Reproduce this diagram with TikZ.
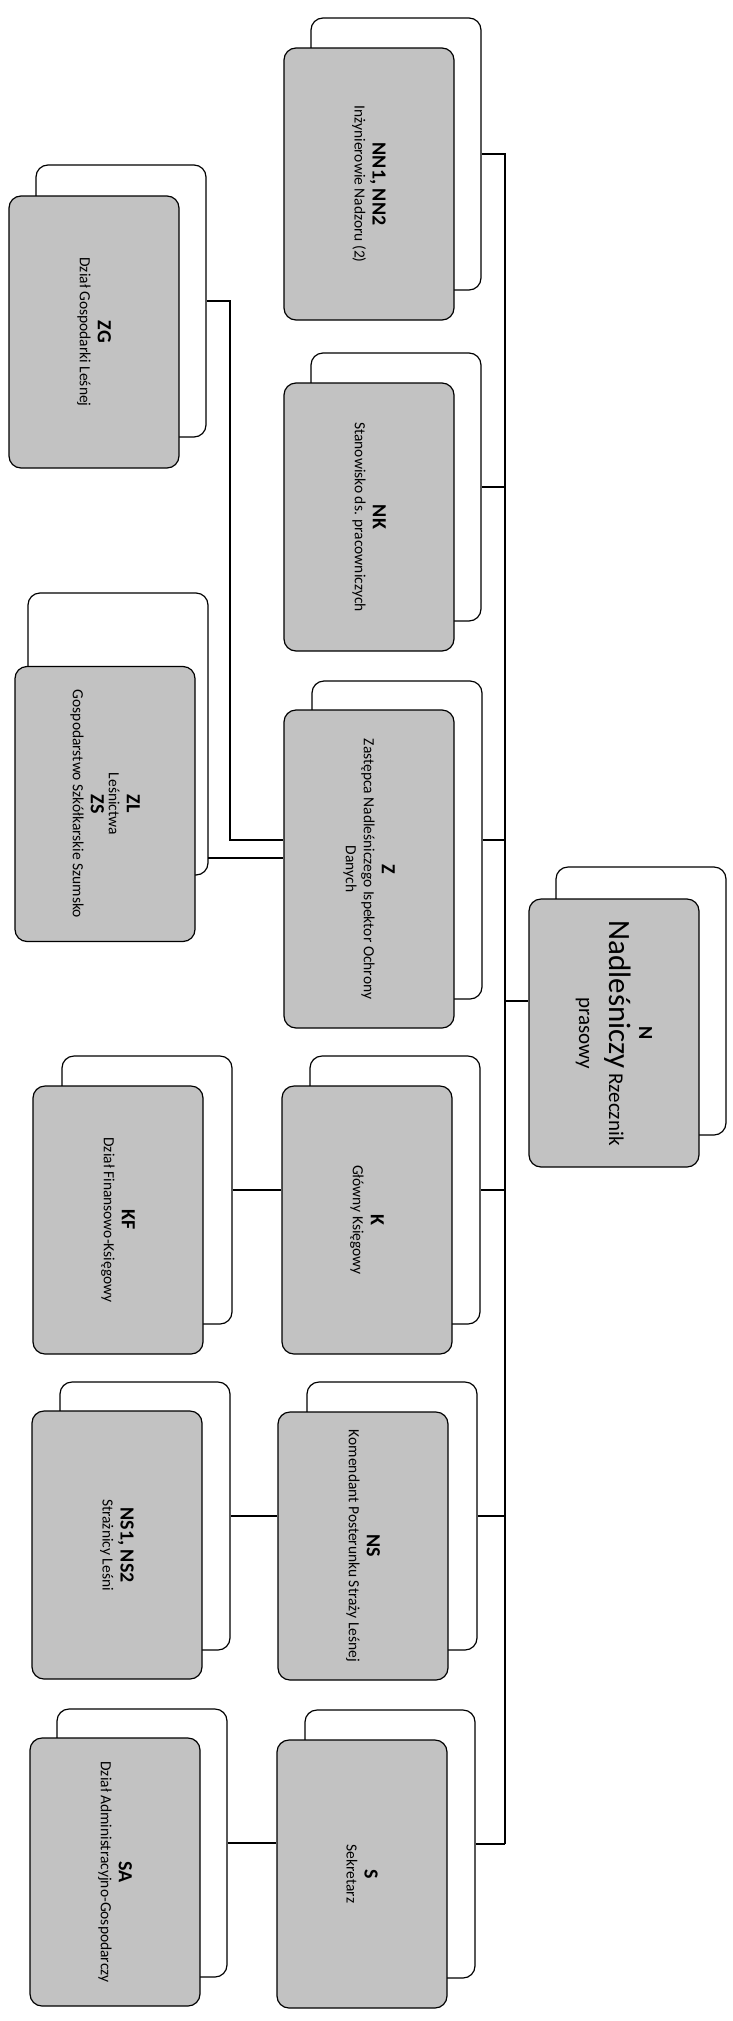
\documentclass[tikz,border=0pt]{standalone}
\usepackage{fontspec}
\setmainfont{Carlito}
\usepackage{xcolor}
\definecolor{cardgray}{HTML}{C2C2C2}

\newcommand{\cardtitle}{\fontsize{20}{24}\selectfont\bfseries}
\newcommand{\cardtext}[3][250pt]{\rotatebox{-90}{\parbox{#1}{\centering{\cardtitle #2}\\#3}}}

\begin{document}
\begin{tikzpicture}[x=1pt, y=-1pt,
  every node/.style={font=\fontsize{15.5}{18}\selectfont},
  card/.style={rectangle, draw, line width=1.2pt, rounded corners=12pt,
               fill=cardgray, minimum width=170pt, minimum height=268pt,
               inner sep=2pt},
  cardback/.style={card, fill=white},
  link/.style={line width=1.2pt},
]
\useasboundingbox (0,0) rectangle (732,2021);

% back cards
\node[cardback, minimum height=272pt] (NNb) at (396,154) {};
\node[cardback] (NKb) at (396,487) {};
\node[cardback, minimum height=318pt] (Zb) at (397,840) {};
\node[cardback] (Nb) at (641,1001) {};
\node[cardback] (Kb) at (395,1190) {};
\node[cardback] (NSb) at (392,1516) {};
\node[cardback] (Sb) at (390,1844) {};
\node[cardback, minimum height=272pt] (ZGb) at (121,301) {};
\node[cardback, minimum width=180pt, minimum height=282pt] (ZLb) at (118,734) {};
\node[cardback] (KFb) at (147,1190) {};
\node[cardback] (NS12b) at (145,1516) {};
\node[cardback] (SAb) at (142,1843) {};

% front cards
\node[card, minimum height=272pt] (NN) at (369,184)
  {\cardtext{NN1, NN2}{Inżynierowie Nadzoru (2)}};
\node[card] (NK) at (369,517)
  {\cardtext{NK}{Stanowisko ds. pracowniczych}};
\node[card, minimum height=318pt] (Z) at (369,869)
  {\cardtext[300pt]{Z}{Zastępca Nadleśniczego Ispektor Ochrony\\Danych}};
\node[card] (N) at (614,1033)
  {\cardtext{N}{\fontsize{21}{30}\selectfont{\fontsize{31}{34}\selectfont Nadleśniczy} Rzecznik\\prasowy}};
\node[card] (K) at (367,1220)
  {\cardtext{K}{Główny Księgowy}};
\node[card] (NS) at (363,1546)
  {\cardtext[260pt]{NS}{Komendant Posterunku Straży Leśnej}};
\node[card] (S) at (362,1874)
  {\cardtext{S}{Sekretarz}};
\node[card, minimum height=272pt] (ZG) at (94,332)
  {\cardtext{ZG}{Dział Gospodarki Leśnej}};
\node[card, minimum width=180pt, minimum height=275pt] (ZL) at (105,804)
  {\cardtext[260pt]{ZL}{Leśnictwa\\{\cardtitle ZS}\\Gospodarstwo Szkółkarskie Szumsko}};
\node[card] (KF) at (118,1220)
  {\cardtext{KF}{Dział Finansowo-Księgowy}};
\node[card] (NS12) at (117,1545)
  {\cardtext{NS1, NS2}{Strażnicy Leśni}};
\node[card] (SA) at (115,1872)
  {\cardtext[260pt]{SA}{Dział Administracyjno-Gospodarczy}};

% connectors
\coordinate (trunk) at (505,0);
\coordinate (zgbend) at (230,0);
\coordinate (zljoin) at (208,858);

\draw[link] (NNb.east) -| (trunk |- Sb.east);
\draw[link] (NKb.east) -- (NKb.east -| trunk);
\draw[link] (Zb.east) -- (Zb.east -| trunk);
\draw[link] (Nb.center -| trunk) -- (Nb.center -| N.west);
\draw[link] (Kb.east) -- (Kb.east -| trunk);
\draw[link] (NSb.east) -- (NSb.east -| trunk);
\draw[link] (Sb.east) -- (Sb.east -| trunk);
\draw[link] (ZGb.east) -| (zgbend |- Zb.center) -- (Zb.center -| Z.west);
\draw[link] (zljoin) -- (zljoin -| Z.west);
\draw[link] (KFb.east) -- (KFb.east -| K.west);
\draw[link] (NS12b.east) -- (NS12b.east -| NS.west);
\draw[link] (SAb.east) -- (SAb.east -| S.west);
\end{tikzpicture}
\end{document}
